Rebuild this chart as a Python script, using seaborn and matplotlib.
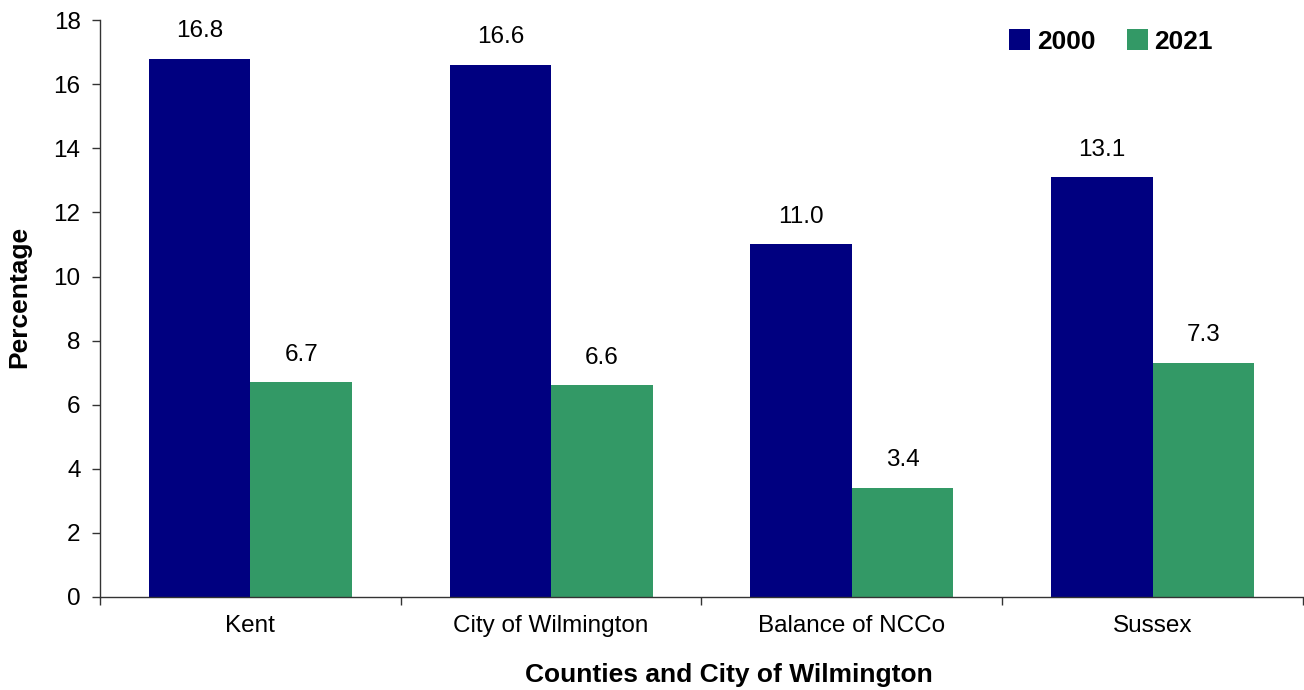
import matplotlib
matplotlib.use("Agg")
import matplotlib.pyplot as plt
import seaborn as sns
import pandas as pd
from matplotlib.patches import Patch

categories = ["Kent", "City of Wilmington", "Balance of NCCo", "Sussex"]
years = ["2000", "2021"]
values_2000 = [16.8, 16.6, 11.0, 13.1]
values_2021 = [6.7, 6.6, 3.4, 7.3]
colors = ["#000080", "#339966"]

df = pd.DataFrame({
    "area": categories * 2,
    "year": [years[0]] * 4 + [years[1]] * 4,
    "value": values_2000 + values_2021,
})

sns.set_style("white")
plt.rcParams["font.family"] = ["Liberation Sans", "DejaVu Sans"]
plt.rcParams["text.color"] = "black"
plt.rcParams["xtick.labelcolor"] = "black"
plt.rcParams["ytick.labelcolor"] = "black"
plt.rcParams["axes.labelcolor"] = "black"

fig = plt.figure(figsize=(13.04, 6.9), dpi=100)
ax = fig.add_axes([0.0767, 0.1348, 0.9225, 0.836])

sns.barplot(data=df, x="area", y="value", hue="year", palette=colors,
            width=0.675, gap=0, saturation=1, linewidth=0, ax=ax, legend=False)

for cont in ax.containers:
    ax.bar_label(cont, fmt="%.1f", padding=12, fontsize=17.5, color="black")

ax.set_xlim(-0.5, 3.5)
ax.set_ylim(0, 18)
ax.set_yticks(range(0, 19, 2))
ax.tick_params(axis="y", labelsize=17.5, length=6, width=1, direction="out",
               left=True, color="#333333", pad=8)
ax.tick_params(axis="x", which="major", labelsize=17.5, length=0, pad=13)
ax.set_xticks([-0.5, 0.5, 1.5, 2.5, 3.5], minor=True)
ax.tick_params(axis="x", which="minor", length=6, width=1, direction="out",
               bottom=True, color="#333333")

for s in ["top", "right"]:
    ax.spines[s].set_visible(False)
for s in ["left", "bottom"]:
    ax.spines[s].set_color("#333333")
    ax.spines[s].set_linewidth(1)

ax.set_xlabel("Counties and City of Wilmington", fontsize=19, fontweight="bold")
ax.set_ylabel("Percentage", fontsize=19, fontweight="bold")
ax.xaxis.set_label_coords(0.523, -0.115)
ax.yaxis.set_label_coords(-0.057, 0.52)

handles = [Patch(facecolor=c, edgecolor="none") for c in colors]
leg = ax.legend(handles, years, loc="upper right", bbox_to_anchor=(0.945, 1.025),
                ncol=2, frameon=False, prop={"size": 19, "weight": "bold"},
                handlelength=0.8, handleheight=0.8, handletextpad=0.25,
                columnspacing=1.2)

fig.savefig("out.png", dpi=100)
